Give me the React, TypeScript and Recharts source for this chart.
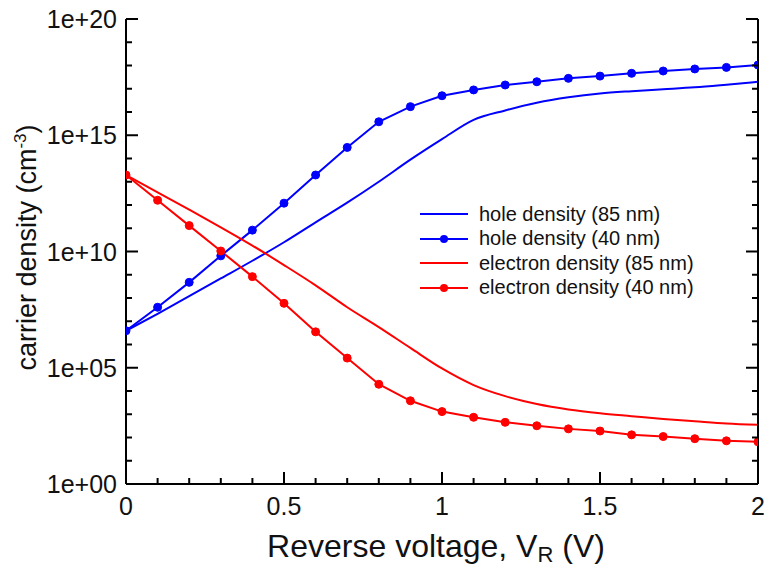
import React from "react";
import { LineChart, Line, XAxis, YAxis } from "recharts";

// reverse voltage (V), one point every 0.1 V
const voltage = [
  0, 0.1, 0.2, 0.3, 0.4, 0.5, 0.6, 0.7, 0.8, 0.9, 1.0,
  1.1, 1.2, 1.3, 1.4, 1.5, 1.6, 1.7, 1.8, 1.9, 2.0,
];

// carrier densities (cm^-3)
const hole85 = [
  3.9e6, 2.1e7, 1.2e8, 6.9e8, 4.0e9, 2.5e10, 1.8e11, 1.26e12, 1.0e13, 8.9e13, 6.8e14,
  4.6e15, 1.17e16, 2.5e16, 4.3e16, 6.3e16, 7.9e16, 9.5e16, 1.15e17, 1.5e17, 2.0e17,
];
const hole40 = [
  3.9e6, 4.0e7, 4.7e8, 6.5e9, 8.3e10, 1.2e12, 1.95e13, 3.0e14, 3.8e15, 1.7e16, 5.0e16,
  8.9e16, 1.45e17, 2.0e17, 2.8e17, 3.5e17, 4.6e17, 5.8e17, 7.1e17, 8.3e17, 1.05e18,
];
const electron85 = [
  1.95e13, 3.5e12, 6.3e11, 1.1e11, 1.8e10, 2.6e9, 3.5e8, 4.0e7, 5.6e6, 7.1e5, 9.3e4,
  1.8e4, 6.0e3, 2.75e3, 1.6e3, 1.1e3, 830, 630, 500, 400, 350,
];
const electron40 = [
  1.95e13, 1.6e12, 1.3e11, 1.05e10, 8.3e8, 5.9e7, 3.5e6, 2.6e5, 1.95e4, 3.8e3, 1.3e3,
  740, 450, 320, 235, 190, 130, 110, 89, 72, 65,
];

const xTicks = [
  0, 0.1, 0.2, 0.3, 0.4, 0.5, 0.6, 0.7, 0.8, 0.9, 1,
  1.1, 1.2, 1.3, 1.4, 1.5, 1.6, 1.7, 1.8, 1.9, 2,
];
const yTicks = [
  1, 1e1, 1e2, 1e3, 1e4, 1e5, 1e6, 1e7, 1e8, 1e9, 1e10,
  1e11, 1e12, 1e13, 1e14, 1e15, 1e16, 1e17, 1e18, 1e19, 1e20,
];

const BLUE = "#0000ff";
const RED = "#ff0000";
const FONT = "'Liberation Sans', Arial, sans-serif";

const series = [
  { key: "hole85", name: "hole density (85 nm)", color: BLUE, dots: false },
  { key: "hole40", name: "hole density (40 nm)", color: BLUE, dots: true },
  { key: "electron85", name: "electron density (85 nm)", color: RED, dots: false },
  { key: "electron40", name: "electron density (40 nm)", color: RED, dots: true },
];

const data = voltage.map((v, i) => ({
  v,
  hole85: hole85[i],
  hole40: hole40[i],
  electron85: electron85[i],
  electron40: electron40[i],
}));

const isMajorX = (v: number) => Math.abs(v * 2 - Math.round(v * 2)) < 1e-6;
const decade = (v: number) => Math.round(Math.log10(v));

// ticks point inward; labels only on majors
const BottomTick = ({ x, y, payload }: any) => {
  const major = isMajorX(payload.value);
  return (
    <g>
      <line x1={x} x2={x} y1={y} y2={y - (major ? 12 : 6)} stroke="#000" strokeWidth={2} />
      {major && (
        <text x={x} y={y + 31} textAnchor="middle" fontSize={25} fontFamily={FONT} fill="#111">
          {String(payload.value)}
        </text>
      )}
    </g>
  );
};

const TopTick = ({ x, y, payload }: any) => {
  const major = isMajorX(payload.value);
  return <line x1={x} x2={x} y1={y} y2={y + (major ? 12 : 6)} stroke="#000" strokeWidth={2} />;
};

const LeftTick = ({ x, y, payload }: any) => {
  const e = decade(payload.value);
  const major = e % 5 === 0;
  return (
    <g>
      <line x1={x} x2={x + (major ? 12 : 6)} y1={y} y2={y} stroke="#000" strokeWidth={2} />
      {major && (
        <text x={x - 9} y={y} dy="0.36em" textAnchor="end" fontSize={25} fontFamily={FONT} fill="#111">
          {`1e+${String(e).padStart(2, "0")}`}
        </text>
      )}
    </g>
  );
};

const RightTick = ({ x, y, payload }: any) => {
  const major = decade(payload.value) % 5 === 0;
  return <line x1={x} x2={x - (major ? 12 : 6)} y1={y} y2={y} stroke="#000" strokeWidth={2} />;
};

const LegendBox = () => (
  <div style={{ position: "absolute", left: 420, top: 202, fontFamily: FONT, fontSize: 20, color: "#111" }}>
    {series.map((s) => (
      <div key={s.key} style={{ display: "flex", alignItems: "center", height: 24.5 }}>
        <svg width={48} height={24} style={{ marginRight: 11 }}>
          <line x1={0} x2={48} y1={12} y2={12} stroke={s.color} strokeWidth={2} />
          {s.dots && <circle cx={24} cy={12} r={4} fill={s.color} />}
        </svg>
        <span style={{ whiteSpace: "nowrap" }}>{s.name}</span>
      </div>
    ))}
  </div>
);

export default function App() {
  return (
    <div style={{ position: "absolute", left: 0, top: 0, width: 766, height: 569, background: "#fff" }}>
      <LineChart width={766} height={569} data={data} margin={{ top: 19, right: 0, bottom: 0, left: 0 }}>
        <XAxis
          xAxisId="b"
          dataKey="v"
          type="number"
          domain={[0, 2]}
          ticks={xTicks}
          interval={0}
          allowDataOverflow
          height={85}
          tickSize={0}
          tickMargin={0}
          tickLine={false}
          axisLine={{ stroke: "#000", strokeWidth: 2 }}
          tick={<BottomTick />}
          label={({ viewBox }: any) => (
            <text
              x={viewBox.x + viewBox.width / 2 - 6}
              y={viewBox.y + 73}
              textAnchor="middle"
              fontSize={32}
              fontFamily={FONT}
              fill="#111"
            >
              Reverse voltage, V
              <tspan fontSize={22} dy={5}>R</tspan>
              <tspan dy={-5}> (V)</tspan>
            </text>
          )}
        />
        <XAxis
          xAxisId="t"
          orientation="top"
          dataKey="v"
          type="number"
          domain={[0, 2]}
          ticks={xTicks}
          interval={0}
          allowDataOverflow
          height={0}
          tickSize={0}
          tickMargin={0}
          tickLine={false}
          axisLine={{ stroke: "#000", strokeWidth: 2 }}
          tick={<TopTick />}
        />
        <YAxis
          yAxisId="l"
          scale="log"
          type="number"
          domain={[1, 1e20]}
          ticks={yTicks}
          interval={0}
          allowDataOverflow
          width={126}
          tickSize={0}
          tickMargin={0}
          tickLine={false}
          axisLine={{ stroke: "#000", strokeWidth: 2 }}
          tick={<LeftTick />}
          label={({ viewBox }: any) => (
            <text
              transform={`translate(36, ${viewBox.y + viewBox.height / 2 - 4}) rotate(-90)`}
              textAnchor="middle"
              fontSize={27}
              fontFamily={FONT}
              fill="#111"
            >
              carrier density (cm
              <tspan fontSize={17} dy={-10}>-3</tspan>
              <tspan dy={10}>)</tspan>
            </text>
          )}
        />
        <YAxis
          yAxisId="r"
          orientation="right"
          scale="log"
          type="number"
          domain={[1, 1e20]}
          ticks={yTicks}
          interval={0}
          allowDataOverflow
          width={8}
          tickSize={0}
          tickMargin={0}
          tickLine={false}
          axisLine={{ stroke: "#000", strokeWidth: 2 }}
          tick={<RightTick />}
        />
        {series.map((s) => (
          <Line
            key={s.key}
            xAxisId="b"
            yAxisId="l"
            dataKey={s.key}
            name={s.name}
            type={s.dots ? "linear" : "monotone"}
            stroke={s.color}
            strokeWidth={2}
            dot={s.dots ? { r: 4, fill: s.color, stroke: s.color, strokeWidth: 1 } : false}
            activeDot={false}
            isAnimationActive={false}
          />
        ))}
      </LineChart>
      <LegendBox />
    </div>
  );
}
